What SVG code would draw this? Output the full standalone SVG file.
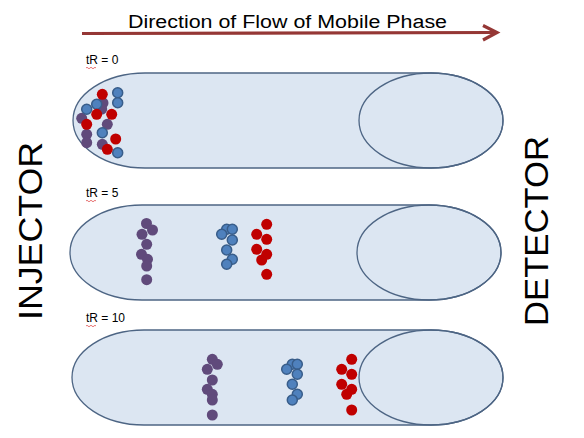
<svg xmlns="http://www.w3.org/2000/svg" width="584" height="438" viewBox="0 0 584 438">
<style>
.col{fill:#dce6f2;stroke:#4d6584;stroke-width:1.3}
.end{fill:none;stroke:#4d6584;stroke-width:1.3}
.lbl{font-family:"Liberation Sans",Arial,sans-serif;font-size:12px;fill:#000}
.big{font-family:"Liberation Sans",Arial,sans-serif;font-size:34px;fill:#000}
.sq{fill:none;stroke:#e05050;stroke-width:0.8}
.p{fill:#604a7b}
.b{fill:#4f81bd;stroke:#385d8a;stroke-width:1.5}
.r{fill:#c00000}
</style>
<rect width="584" height="438" fill="#ffffff"/>
<g id="flow">
<line x1="82" y1="33.5" x2="496" y2="32.5" stroke="#953735" stroke-width="3.2"/>
<polyline points="483,25.5 497,32.5 483,40" fill="none" stroke="#953735" stroke-width="3.2" stroke-linejoin="miter"/>
<text x="128" y="28" font-family="'Liberation Sans',Arial,sans-serif" font-size="18" textLength="319" lengthAdjust="spacingAndGlyphs">Direction of Flow of Mobile Phase</text>
</g>
<g id="injector"><text class="big" transform="translate(42,231) rotate(-90)" text-anchor="middle" textLength="178" lengthAdjust="spacingAndGlyphs">INJECTOR</text></g>
<g id="detector"><text class="big" transform="translate(548,231) rotate(-90)" text-anchor="middle" textLength="190" lengthAdjust="spacingAndGlyphs">DETECTOR</text></g>

<g id="column1">
<text class="lbl" x="86" y="64">tR = 0</text>
<path class="sq" d="M86,68 q1,-1.5 2,0 t2,0 t2,0 t2,0 t2,0"/>
<rect class="col" x="73" y="73" width="430" height="95" rx="72" ry="47.5"/>
<ellipse class="end" cx="431" cy="120.5" rx="72" ry="47.5"/>
<circle class="p" cx="103" cy="103" r="5.5"/>
<circle class="p" cx="101.7" cy="109" r="5.5"/>
<circle class="p" cx="81.7" cy="118.3" r="5.5"/>
<circle class="p" cx="107.3" cy="124.3" r="5.5"/>
<circle class="p" cx="86.7" cy="134.3" r="5.5"/>
<circle class="p" cx="86.7" cy="142.7" r="5.5"/>
<circle class="p" cx="102.3" cy="144.3" r="5.5"/>
<circle class="b" cx="117.7" cy="92.7" r="5"/>
<circle class="b" cx="117.7" cy="102.7" r="5"/>
<circle class="b" cx="96.7" cy="104.3" r="5"/>
<circle class="b" cx="86.7" cy="109.3" r="5"/>
<circle class="b" cx="102.3" cy="132.7" r="5"/>
<circle class="b" cx="117.7" cy="152.7" r="5"/>
<circle class="r" cx="102.3" cy="94.3" r="5.5"/>
<circle class="r" cx="96.7" cy="114.3" r="5.5"/>
<circle class="r" cx="111.7" cy="114.3" r="5.5"/>
<circle class="r" cx="86.7" cy="124.3" r="5.5"/>
<circle class="r" cx="115.7" cy="139" r="5.5"/>
<circle class="r" cx="107.3" cy="149.3" r="5.5"/>
</g>

<g id="column2">
<text class="lbl" x="86" y="197">tR = 5</text>
<path class="sq" d="M86,201 q1,-1.5 2,0 t2,0 t2,0 t2,0 t2,0"/>
<rect class="col" x="70" y="205" width="431" height="95" rx="72" ry="47.5"/>
<ellipse class="end" cx="429" cy="252.5" rx="72" ry="47.5"/>
<circle class="p" cx="146.5" cy="223.5" r="5.5"/>
<circle class="p" cx="152.5" cy="230" r="5.5"/>
<circle class="p" cx="142" cy="234.3" r="5.5"/>
<circle class="p" cx="146.7" cy="244.3" r="5.5"/>
<circle class="p" cx="141.5" cy="254.3" r="5.5"/>
<circle class="p" cx="147.5" cy="259.3" r="5.5"/>
<circle class="p" cx="146.7" cy="266" r="5.5"/>
<circle class="p" cx="146.7" cy="279.7" r="5.5"/>
<circle class="b" cx="226.7" cy="229.3" r="5"/>
<circle class="b" cx="232.3" cy="229.3" r="5"/>
<circle class="b" cx="221.7" cy="234.3" r="5"/>
<circle class="b" cx="232.3" cy="240" r="5"/>
<circle class="b" cx="226.7" cy="250" r="5"/>
<circle class="b" cx="232.3" cy="259.3" r="5"/>
<circle class="b" cx="226.7" cy="264.3" r="5"/>
<circle class="r" cx="266.7" cy="224.3" r="5.5"/>
<circle class="r" cx="256.7" cy="234.3" r="5.5"/>
<circle class="r" cx="266.7" cy="239.3" r="5.5"/>
<circle class="r" cx="256.7" cy="249.3" r="5.5"/>
<circle class="r" cx="266.7" cy="254.3" r="5.5"/>
<circle class="r" cx="261.7" cy="260" r="5.5"/>
<circle class="r" cx="266.7" cy="274.3" r="5.5"/>
</g>

<g id="column3">
<text class="lbl" x="86" y="322">tR = 10</text>
<path class="sq" d="M86,326 q1,-1.5 2,0 t2,0 t2,0 t2,0 t2,0"/>
<rect class="col" x="72" y="330" width="431" height="95" rx="72" ry="47.5"/>
<ellipse class="end" cx="431" cy="377.5" rx="72" ry="47.5"/>
<circle class="p" cx="212.3" cy="359.3" r="5.5"/>
<circle class="p" cx="217.3" cy="364.3" r="5.5"/>
<circle class="p" cx="207.3" cy="369.3" r="5.5"/>
<circle class="p" cx="212.3" cy="380" r="5.5"/>
<circle class="p" cx="207.3" cy="389.3" r="5.5"/>
<circle class="p" cx="212.3" cy="394.3" r="5.5"/>
<circle class="p" cx="212.3" cy="400" r="5.5"/>
<circle class="p" cx="212.3" cy="415" r="5.5"/>
<circle class="b" cx="292.3" cy="364.3" r="5"/>
<circle class="b" cx="297.3" cy="364.3" r="5"/>
<circle class="b" cx="286.7" cy="369.3" r="5"/>
<circle class="b" cx="297.3" cy="374.3" r="5"/>
<circle class="b" cx="292.3" cy="384.3" r="5"/>
<circle class="b" cx="297.3" cy="394.3" r="5"/>
<circle class="b" cx="292.3" cy="400" r="5"/>
<circle class="r" cx="351.7" cy="359.3" r="5.5"/>
<circle class="r" cx="341.7" cy="369.3" r="5.5"/>
<circle class="r" cx="351.7" cy="374.3" r="5.5"/>
<circle class="r" cx="341.7" cy="384.3" r="5.5"/>
<circle class="r" cx="351.7" cy="389.3" r="5.5"/>
<circle class="r" cx="346.7" cy="394.3" r="5.5"/>
<circle class="r" cx="351.7" cy="410" r="5.5"/>
</g>
</svg>
